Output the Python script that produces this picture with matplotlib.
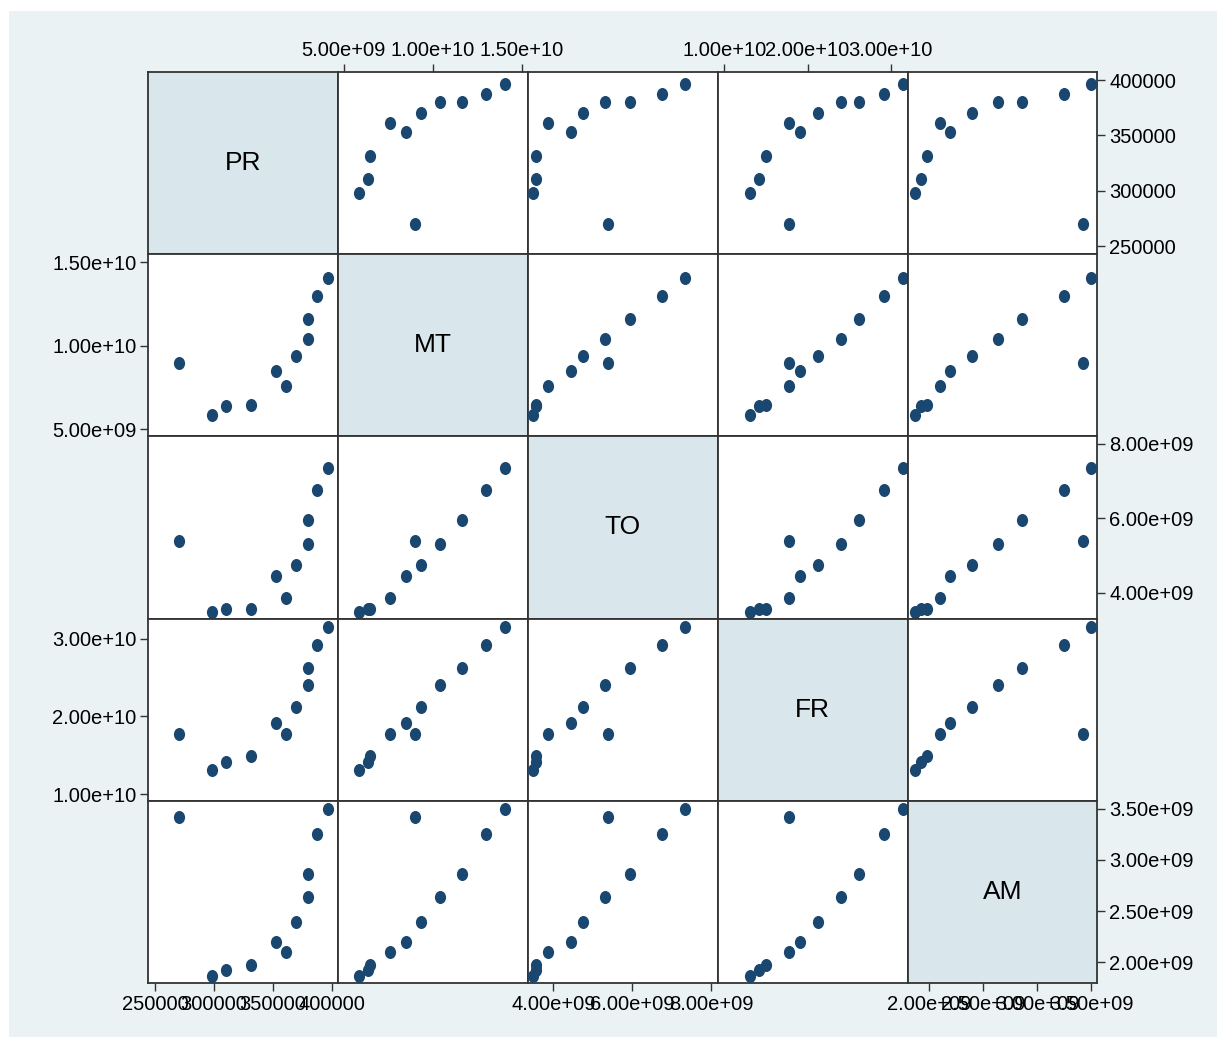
import numpy as np
import matplotlib
matplotlib.use("Agg")
import matplotlib.pyplot as plt
from matplotlib.path import Path
from matplotlib.transforms import Affine2D
from matplotlib.patches import Rectangle

plt.rcParams['font.family'] = ['Liberation Sans', 'DejaVu Sans']

# data (11 observations)
names = ["PR", "MT", "TO", "FR", "AM"]
PR = [270200, 298000, 310600, 331800, 352900, 361400, 370000, 379800, 379800, 387400, 396500]
MT = [8.97e9, 5.83e9, 6.37e9, 6.47e9, 8.47e9, 7.62e9, 9.36e9, 1.042e10, 1.161e10, 1.298e10, 1.403e10]
TO = [5.38e9, 3.48e9, 3.57e9, 3.57e9, 4.45e9, 3.87e9, 4.75e9, 5.30e9, 5.95e9, 6.75e9, 7.34e9]
FR = [1.774e10, 1.306e10, 1.418e10, 1.495e10, 1.915e10, 1.778e10, 2.121e10, 2.404e10, 2.617e10, 2.918e10, 3.144e10]
AM = [3.424e9, 1.868e9, 1.921e9, 1.976e9, 2.197e9, 2.101e9, 2.394e9, 2.64e9, 2.86e9, 3.25e9, 3.50e9]
datos = [PR, MT, TO, FR, AM]

# ticks per variable
ticks = [[250000, 300000, 350000, 400000],
         [5e9, 1e10, 1.5e10],
         [4e9, 6e9, 8e9],
         [1e10, 2e10, 3e10],
         [2e9, 2.5e9, 3e9, 3.5e9]]
tick_labels = [["250000", "300000", "350000", "400000"],
               ["5.00e+09", "1.00e+10", "1.50e+10"],
               ["4.00e+09", "6.00e+09", "8.00e+09"],
               ["1.00e+10", "2.00e+10", "3.00e+10"],
               ["2.00e+09", "2.50e+09", "3.00e+09", "3.50e+09"]]

# axis ranges (column = x, row = y)
xlim_kol = [(244330, 405400), (4.677e9, 1.534e10), (3.355e9, 8.171e9), (0.920e10, 3.202e10), (1.799e9, 3.558e9)]
ylim_bar = [(243000, 407545), (4.583e9, 1.549e10), (3.307e9, 8.197e9), (0.911e10, 3.257e10), (1.793e9, 3.576e9)]

warna_titik = "#1A476F"
warna_bg = "#EAF2F3"
warna_diag = "#D9E6EB"
warna_garis = "#333333"

# marker elips (sedikit lebih tinggi)
elips = Affine2D().scale(0.86, 1.0).transform_path(Path.unit_circle())

fig = plt.figure(figsize=(12.26, 10.43), dpi=100, facecolor="white")
fig.patches.append(Rectangle((9/1226, 6/1043), 1208/1226, 1026/1043,
                             transform=fig.transFigure, facecolor=warna_bg,
                             edgecolor="none", zorder=-10))

axes = fig.subplots(5, 5)
fig.subplots_adjust(left=148.3/1226, right=1097.3/1226, top=1-71.7/1043,
                    bottom=1-983.3/1043, wspace=0, hspace=0)

n = len(names)
for i in range(n):
    for j in range(n):
        ax = axes[i, j]
        ax.set_xlim(xlim_kol[j])
        ax.set_ylim(ylim_bar[i])
        for s in ax.spines.values():
            s.set_color(warna_garis)
            s.set_linewidth(1.3)
        if i == j:
            ax.set_facecolor(warna_diag)
            ax.text(0.5, 0.5, names[i], transform=ax.transAxes, ha="center",
                    va="center", fontsize=19, color="black")
        else:
            ax.set_facecolor("white")
            ax.scatter(datos[j], datos[i], s=88, marker=elips,
                       color=warna_titik, linewidths=0, zorder=3)
        ax.set_xticks([])
        ax.set_yticks([])

        # sumbu x: atas untuk kolom 2,4 ; bawah untuk kolom 1,3,5
        if i == 0 and j % 2 == 1:
            ax.set_xticks(ticks[j])
            ax.set_xticklabels(tick_labels[j])
            ax.xaxis.tick_top()
        if i == n - 1 and j % 2 == 0:
            ax.set_xticks(ticks[j])
            ax.set_xticklabels(tick_labels[j])
        # sumbu y: kanan untuk baris 1,3,5 ; kiri untuk baris 2,4
        if j == n - 1 and i % 2 == 0:
            ax.set_yticks(ticks[i])
            ax.set_yticklabels(tick_labels[i])
            ax.yaxis.tick_right()
        if j == 0 and i % 2 == 1:
            ax.set_yticks(ticks[i])
            ax.set_yticklabels(tick_labels[i])
        ax.tick_params(axis="both", length=5.5, width=1, color=warna_garis,
                       labelsize=14.5, pad=3)

fig.savefig("out.png", dpi=100, facecolor="white")
